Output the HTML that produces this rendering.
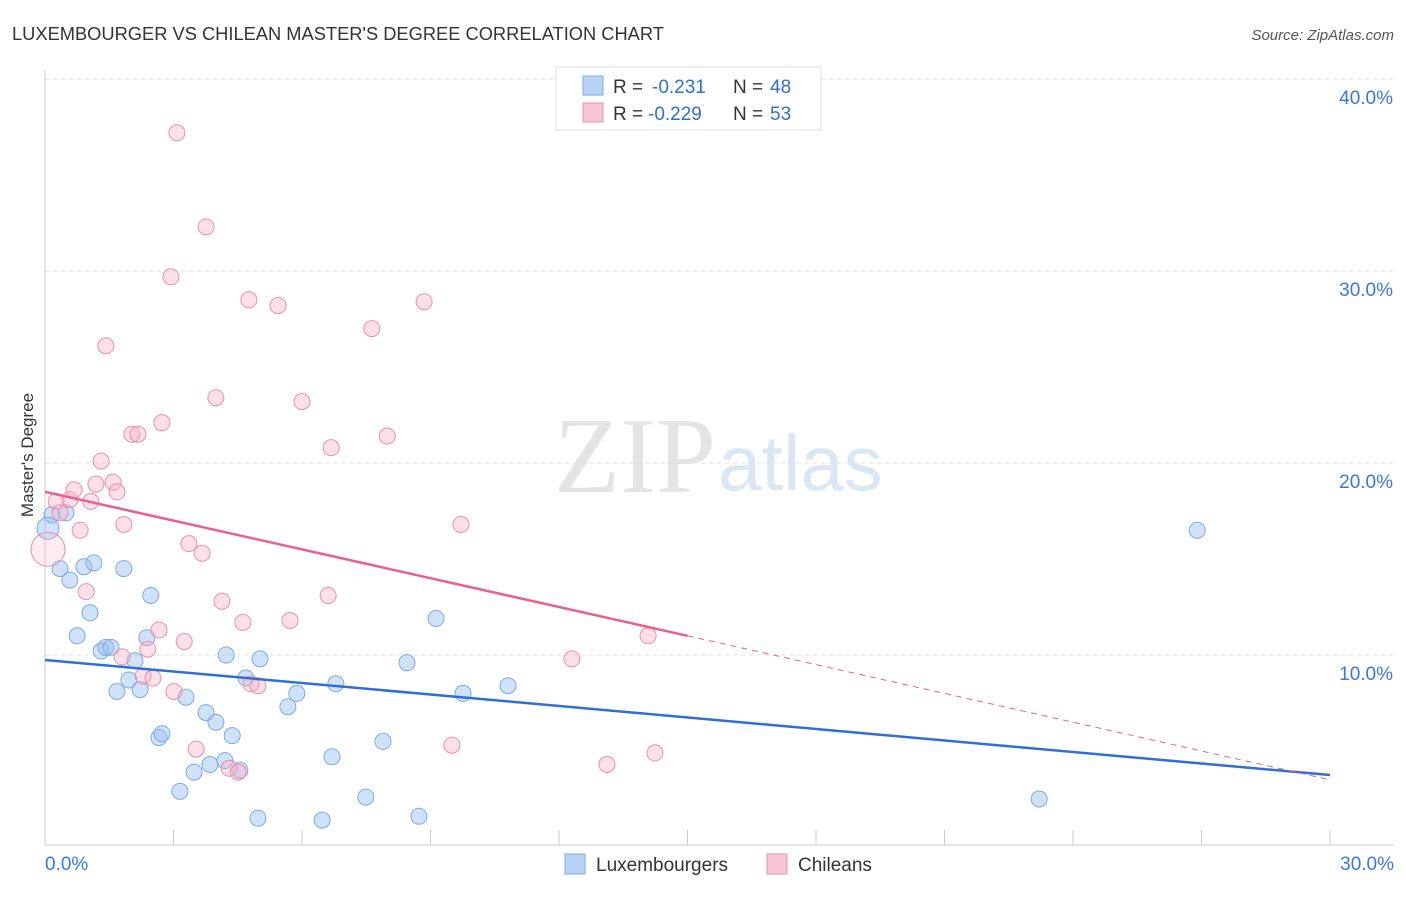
<!DOCTYPE html>
<html><head><meta charset="utf-8"><style>
body{margin:0;background:#fff;font-family:"Liberation Sans",sans-serif}
</style></head><body>
<svg id="c" width="1406" height="892" xmlns="http://www.w3.org/2000/svg">
<text x="12" y="40" font-size="18.3" fill="#333">LUXEMBOURGER VS CHILEAN MASTER'S DEGREE CORRELATION CHART</text>
<text x="1394" y="40" font-size="15" fill="#555" font-style="italic" text-anchor="end">Source: ZipAtlas.com</text>
<text x="716" y="492" font-size="108" fill="#e4e4e4" text-anchor="end" font-family="Liberation Serif">ZIP</text>
<text x="718" y="490" font-size="78" fill="#dbe6f4">atlas</text>
<text transform="translate(33,455) rotate(-90)" font-size="17" fill="#333" text-anchor="middle">Master's Degree</text>
<g id="grid"></g><g id="pts"></g><g id="lines"></g>
<g>
<rect x="556" y="67" width="265" height="63" fill="#fff" stroke="#ddd"/>
<rect x="583" y="76" width="20" height="19" fill="#b8d3f5" stroke="#7fa9e0"/>
<rect x="583" y="103" width="20" height="19" fill="#f8c5d6" stroke="#e890ad"/>
<text x="613" y="93" font-size="19" fill="#333">R = <tspan x="652" fill="#2f6fd0">-0.231</tspan><tspan x="733">N = </tspan><tspan x="770" fill="#2f6fd0">48</tspan></text>
<text x="613" y="120" font-size="19" fill="#333">R = <tspan x="648" fill="#2f6fd0">-0.229</tspan><tspan x="733">N = </tspan><tspan x="770" fill="#2f6fd0">53</tspan></text>
</g>
<g>
<rect x="565" y="854" width="20" height="20" fill="#b8d3f5" stroke="#7fa9e0"/>
<text x="596" y="871" font-size="19" fill="#333">Luxembourgers</text>
<rect x="767" y="854" width="20" height="20" fill="#f8c5d6" stroke="#e890ad"/>
<text x="798" y="871" font-size="19" fill="#333">Chileans</text>
</g>
</svg>
<script>
const yTicks=[10,20,30,40];
const yTickLabels=["10.0%","20.0%","30.0%","40.0%"];
const xTickVals=[0,3,6,9,12,15,18,21,24,27,30];
const blueX=[0.16,0.35,0.49,0.58,0.75,0.91,1.05,1.14,1.31,1.42,1.54,1.68,1.84,1.96,2.10,2.22,2.38,2.47,2.66,2.73,3.29,3.48,3.15,3.76,3.85,3.99,4.20,4.23,4.37,4.55,4.69,4.97,5.02,5.67,5.88,6.47,6.70,6.79,7.49,7.89,8.45,8.73,9.13,9.76,10.81,23.21,26.90,0.07];
const blueY=[17.3,14.5,17.4,13.9,11.0,14.6,12.2,14.8,10.2,10.4,10.4,8.1,14.5,8.7,9.7,8.2,10.9,13.1,5.7,5.9,7.8,3.9,2.9,7.0,4.3,6.5,4.5,10.0,5.8,4.0,8.8,1.5,9.8,7.3,8.0,1.4,4.7,8.5,2.6,5.5,9.6,1.6,11.9,8.0,8.4,2.5,16.5,16.6];
const pinkX=[0.07,0.26,0.35,0.58,0.68,0.82,0.96,1.07,1.19,1.31,1.42,1.59,1.68,1.84,1.80,2.03,2.17,2.29,2.40,2.52,2.66,2.73,2.94,3.01,3.08,3.25,3.36,3.53,3.67,3.76,3.99,4.13,4.30,4.51,4.62,4.76,4.81,4.97,5.44,5.72,6.00,6.68,6.61,7.63,7.99,8.85,9.50,9.71,12.30,13.12,14.08,14.24];
const pinkY=[15.5,18.0,17.4,18.1,18.6,16.5,13.3,18.0,18.9,20.1,26.1,19.0,18.5,16.8,9.9,21.5,21.5,8.9,10.3,8.8,11.3,22.1,29.7,8.1,37.2,10.7,15.8,5.1,15.3,32.3,23.4,12.8,4.1,3.9,11.7,28.5,8.5,8.4,28.2,11.8,23.2,20.8,13.1,27.0,21.4,28.4,5.3,16.8,9.8,4.3,11.0,4.9];
const blueTrend=[9.74,3.75];
const pinkTrend=[18.5,3.5];
const pinkSolidEnd=15;
const X=v=>45+v*(1285/30), Y=v=>847-v*19.2;
const NS="http://www.w3.org/2000/svg";
function mk(t,a,p){const e=document.createElementNS(NS,t);for(const k in a)e.setAttribute(k,a[k]);p.appendChild(e);return e;}
const g=document.getElementById('grid');
mk('line',{x1:45,y1:70,x2:45,y2:845,stroke:'#ccc'},g);
mk('line',{x1:45,y1:845,x2:1394,y2:845,stroke:'#ccc'},g);
yTicks.forEach((v,i)=>{
 const l=mk('line',{x1:45,y1:Y(v),x2:1394,y2:Y(v),stroke:'#ddd','stroke-dasharray':'4,4'},g);
 
 
 const t=mk('text',{x:1393,y:Y(v)+25,'font-size':19,fill:'#3a78d8','text-anchor':'end'},g);
 t.textContent=yTickLabels[i];
 
 
});
xTickVals.forEach(v=>{
 const l=mk('line',{x1:X(v),y1:830,x2:X(v),y2:845,stroke:'#ccc'},g);
 
 
});
const t0=mk('text',{x:45,y:870,'font-size':19,fill:'#3a78d8'},g);t0.textContent='0.0%';


const t1=mk('text',{x:1394,y:870,'font-size':19,fill:'#3a78d8','text-anchor':'end'},g);t1.textContent='30.0%';


const p=document.getElementById('pts');
blueX.forEach((x,i)=>{
 const r=i===blueX.length-1?11:8;
 const c=mk('circle',{cx:X(x),cy:Y(blueY[i]),r:r,fill:'rgba(150,190,240,0.45)',stroke:'#7fa9e0','stroke-width':1},p);
 
 
});
pinkX.forEach((x,i)=>{
 const r=i===0?17:8;
 const c=mk('circle',{cx:X(x),cy:Y(pinkY[i]),r:r,fill:i===0?'rgba(245,175,200,0.25)':'rgba(245,175,200,0.4)',stroke:'#e890ad','stroke-width':1},p);
 
 
});
const L=document.getElementById('lines');
const bl=mk('line',{x1:X(0),y1:Y(blueTrend[0]),x2:X(30),y2:Y(blueTrend[1]),stroke:'#2f6fd6','stroke-width':2.5},L);


const pm=pinkTrend[0]+(pinkTrend[1]-pinkTrend[0])*pinkSolidEnd/30;
const pl=mk('line',{x1:X(0),y1:Y(pinkTrend[0]),x2:X(pinkSolidEnd),y2:Y(pm),stroke:'#e8608f','stroke-width':2.5},L);


const pd=mk('line',{x1:X(pinkSolidEnd),y1:Y(pm),x2:X(30),y2:Y(pinkTrend[1]),stroke:'#e8608f','stroke-width':1,'stroke-dasharray':'6,5'},L);


</script>
</body></html>
